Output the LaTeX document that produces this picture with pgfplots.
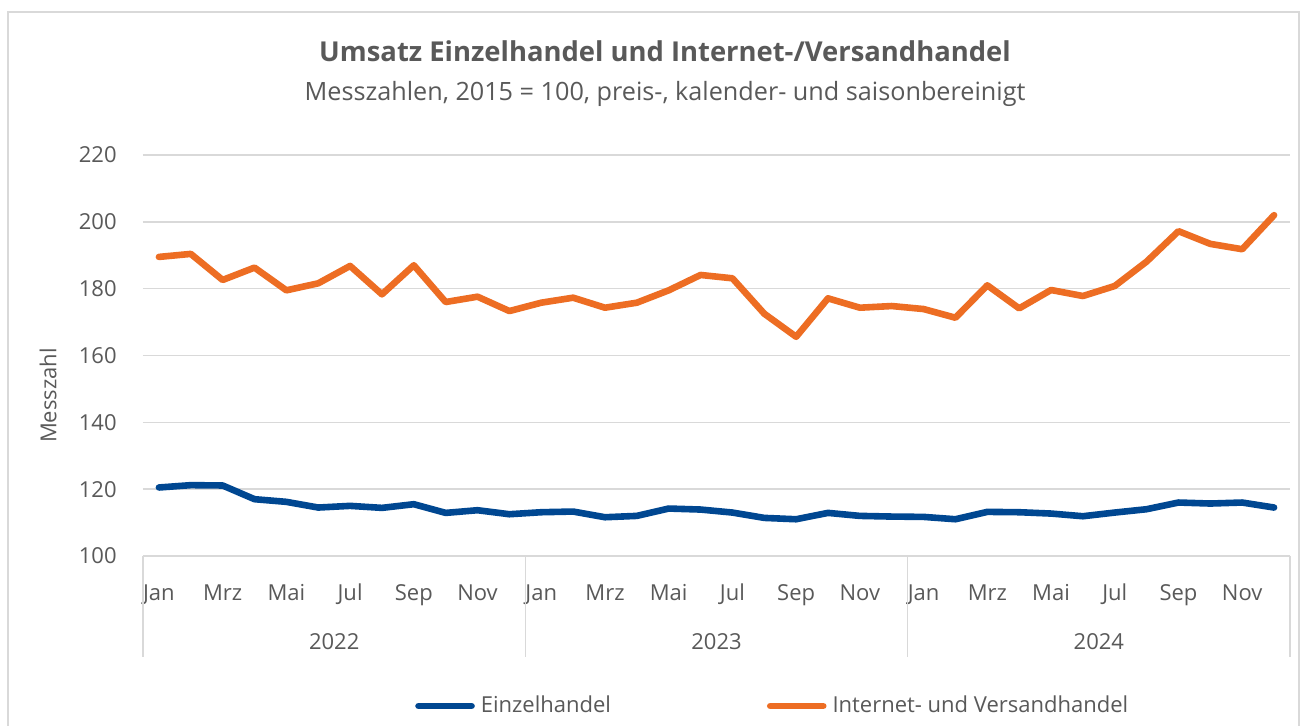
\documentclass[border=0pt]{standalone}
\usepackage{fontspec}
\setmainfont{Open Sans}
\usepackage{pgfplots}
\usepackage{pgfplotstable}
\pgfplotsset{compat=1.18}
\definecolor{eblue}{RGB}{0,71,145}
\definecolor{iorange}{RGB}{237,109,35}
\definecolor{tgrey}{RGB}{89,89,89}
\definecolor{ggrey}{RGB}{217,217,217}

\pgfplotstableread{
m e i
1 120.5 189.5
2 121.2 190.4
3 121.1 182.6
4 117.0 186.3
5 116.2 179.5
6 114.5 181.6
7 115.0 186.8
8 114.4 178.3
9 115.5 187.0
10 112.9 176.0
11 113.7 177.6
12 112.5 173.3
13 113.1 175.8
14 113.3 177.3
15 111.6 174.3
16 112.0 175.8
17 114.2 179.5
18 113.9 184.1
19 113.0 183.1
20 111.4 172.5
21 111.0 165.6
22 112.9 177.1
23 112.0 174.3
24 111.8 174.8
25 111.7 173.9
26 111.0 171.3
27 113.2 181.0
28 113.1 174.1
29 112.7 179.6
30 111.9 177.8
31 113.0 180.8
32 114.0 188.1
33 116.0 197.2
34 115.7 193.4
35 116.0 191.8
36 114.5 202.0
}\data

\begin{document}
\begin{tikzpicture}
\begin{scope}[x=0.5pt,y=-0.5pt]
\useasboundingbox (0,0) rectangle (1303,726);
\clip (0,0) rectangle (1303,726);
\fill[white] (0,0) rectangle (1303,726);
\draw[ggrey, line width=0.75pt] (8,12) rectangle (1299,760);
\node[font=\fontsize{13.7}{16}\selectfont\bfseries, text=tgrey] at (665,51) {Umsatz Einzelhandel und Internet-/Versandhandel};
\node[font=\fontsize{12.6}{15}\selectfont, text=tgrey] at (665,94) {Messzahlen, 2015 = 100, preis-, kalender- und saisonbereinigt};
\end{scope}
\begin{axis}[
  at={(71.5pt,-278pt)}, anchor=south west,
  scale only axis, width=573.5pt, height=200.5pt,
  xmin=0.5, xmax=36.5, ymin=100, ymax=220,
  ytick={100,120,...,220},
  xtick={1,3,...,35},
  xticklabels={Jan,Mrz,Mai,Jul,Sep,Nov,Jan,Mrz,Mai,Jul,Sep,Nov,Jan,Mrz,Mai,Jul,Sep,Nov},
  major tick length=0pt,
  axis line style={draw=none},
  ymajorgrids, grid style={ggrey, line width=0.75pt},
  tick label style={font=\fontsize{11}{13}\selectfont, text=tgrey},
  /pgf/number format/assume math mode=true,
  xticklabel style={anchor=base, yshift=-22.5pt, inner sep=0pt},
  yticklabel style={anchor=east, inner sep=0pt, xshift=-13pt},
  ylabel={Messzahl},
  ylabel style={at={(axis description cs:-0.0828,0.40)}, anchor=center, font=\fontsize{11}{13}\selectfont, text=tgrey},
  clip=false,
  legend columns=2,
  legend style={at={(axis description cs:0.237,-0.374)}, anchor=west, draw=none, fill=none, inner sep=0pt,
    font=\fontsize{11}{13}\selectfont, text=tgrey, nodes={inner sep=0pt},
    /tikz/every odd column/.append style={column sep=3pt},
    /tikz/every even column/.append style={column sep=78pt}},
  legend image code/.code={\draw[#1] (0pt,0pt) -- (26.5pt,0pt);},
]
\addplot[eblue, line width=3.3pt, line join=round, line cap=round] table[x=m,y=e]{\data};
\addlegendentry{Einzelhandel}
\addplot[iorange, line width=3.3pt, line join=round, line cap=round] table[x=m,y=i]{\data};
\addlegendentry{Internet- und Versandhandel}
\foreach \s in {0.5,12.5,24.5,36.5}{
  \edef\tmp{\noexpand\draw[ggrey, line width=0.75pt] (axis cs:\s,100) -- ++(0pt,-50.5pt);}\tmp
}
\node[font=\fontsize{11}{13}\selectfont, text=tgrey, anchor=base] at ([yshift=-47pt]axis cs:6.5,100) {2022};
\node[font=\fontsize{11}{13}\selectfont, text=tgrey, anchor=base] at ([yshift=-47pt]axis cs:18.5,100) {2023};
\node[font=\fontsize{11}{13}\selectfont, text=tgrey, anchor=base] at ([yshift=-47pt]axis cs:30.5,100) {2024};
\end{axis}
\end{tikzpicture}
\end{document}
